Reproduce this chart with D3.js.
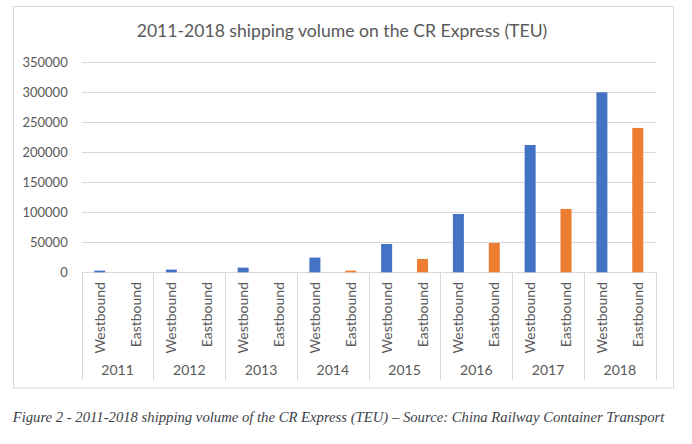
<!DOCTYPE html>
<html>
<head>
<meta charset="utf-8">
<script src="https://cdn.jsdelivr.net/npm/d3@7/dist/d3.min.js"></script>
<style>
  html, body { margin: 0; padding: 0; background: #fff; }
  svg { display: block; }
</style>
</head>
<body>
<svg id="chart" width="692" height="444"></svg>
<script>
// ---- data ----
const years = ["2011", "2012", "2013", "2014", "2015", "2016", "2017", "2018"];
const directions = ["Westbound", "Eastbound"];
const westbound = [2800, 4500, 7800, 24500, 47200, 97200, 212200, 300000];
const eastbound = [0, 0, 0, 2800, 22200, 48900, 105600, 240600];
const yTicks = [0, 50000, 100000, 150000, 200000, 250000, 300000, 350000];
const titleText = "2011-2018 shipping volume on the CR Express (TEU)";
const captionText = "Figure 2 - 2011-2018 shipping volume of the CR Express (TEU) \u2013 Source: China Railway Container Transport";

const rows = years.map((y, i) => ({ year: y, values: [westbound[i], eastbound[i]] }));

const svg = d3.select("#chart");
const font = "Lato, 'DejaVu Sans', sans-serif";
const textColor = "#595959";
const gridColor = "#d9d9d9";
const colors = ["#4472C4", "#ED7D31"];

// chart border
svg.append("rect")
  .attr("x", 13.5).attr("y", 6.5)
  .attr("width", 660).attr("height", 381.5)
  .attr("fill", "#fff").attr("stroke", gridColor).attr("stroke-width", 1);

const plotLeft = 81.7, plotRight = 655.7, plotTop = 62.3, plotBottom = 272.3;

const x0 = d3.scaleBand().domain(years).range([plotLeft, plotRight]).padding(0);
const x1 = d3.scaleBand().domain(directions).range([0, x0.bandwidth()]).padding(0);
const y = d3.scaleLinear().domain([0, 350000]).range([plotBottom, plotTop]);
const barW = 11;

// gridlines
svg.append("g").selectAll("line").data(yTicks).join("line")
  .attr("x1", plotLeft).attr("x2", plotRight)
  .attr("y1", d => Math.round(y(d)) + 0.5).attr("y2", d => Math.round(y(d)) + 0.5)
  .attr("stroke", gridColor).attr("stroke-width", 1);

// y axis labels
const yAxis = d3.axisLeft(y).tickValues(yTicks).tickSize(0).tickPadding(0).tickFormat(d3.format("d"));
const yg = svg.append("g").attr("transform", `translate(67.7,0)`).call(yAxis);
yg.select(".domain").remove();
yg.selectAll("text").attr("font-family", font).attr("font-size", 13).attr("fill", textColor);

// bars
const groups = svg.append("g").selectAll("g").data(rows).join("g")
  .attr("transform", d => `translate(${x0(d.year)},0)`);
groups.selectAll("rect").data(d => d.values.map((v, i) => ({ dir: directions[i], v, i }))).join("rect")
  .attr("x", d => x1(d.dir) + x1.bandwidth() / 2 - barW / 2)
  .attr("width", barW)
  .attr("y", d => y(d.v))
  .attr("height", d => plotBottom - y(d.v))
  .attr("fill", d => colors[d.i]);

// category dividers
const bounds = years.map(yv => x0(yv)).concat([plotRight]);
svg.append("g").selectAll("line").data(bounds).join("line")
  .attr("x1", d => Math.round(d) + 0.5).attr("x2", d => Math.round(d) + 0.5)
  .attr("y1", plotBottom).attr("y2", 380)
  .attr("stroke", gridColor).attr("stroke-width", 1);

// direction labels
groups.selectAll("text.dir").data(directions).join("text")
  .attr("class", "dir")
  .attr("transform", d => `translate(${x1(d) + x1.bandwidth() / 2},282) rotate(-90)`)
  .attr("text-anchor", "end")
  .attr("dy", "0.36em")
  .attr("font-family", font).attr("font-size", 14).attr("fill", textColor)
  .text(d => d);

// year labels
svg.append("g").selectAll("text").data(years).join("text")
  .attr("x", d => x0(d) + x0.bandwidth() / 2)
  .attr("y", 375)
  .attr("text-anchor", "middle")
  .attr("font-family", font).attr("font-size", 14).attr("fill", textColor)
  .text(d => d);

// title
svg.append("text")
  .attr("x", 342).attr("y", 37)
  .attr("text-anchor", "middle")
  .attr("font-family", font).attr("font-size", 17.6).attr("fill", textColor)
  .text(titleText);

// caption
svg.append("text")
  .attr("x", 12.7).attr("y", 421.7)
  .attr("font-family", "'Liberation Serif', 'DejaVu Serif', serif")
  .attr("font-style", "italic")
  .attr("font-size", 14.7).attr("fill", "#3d3f4a")
  .text(captionText);
</script>
</body>
</html>
